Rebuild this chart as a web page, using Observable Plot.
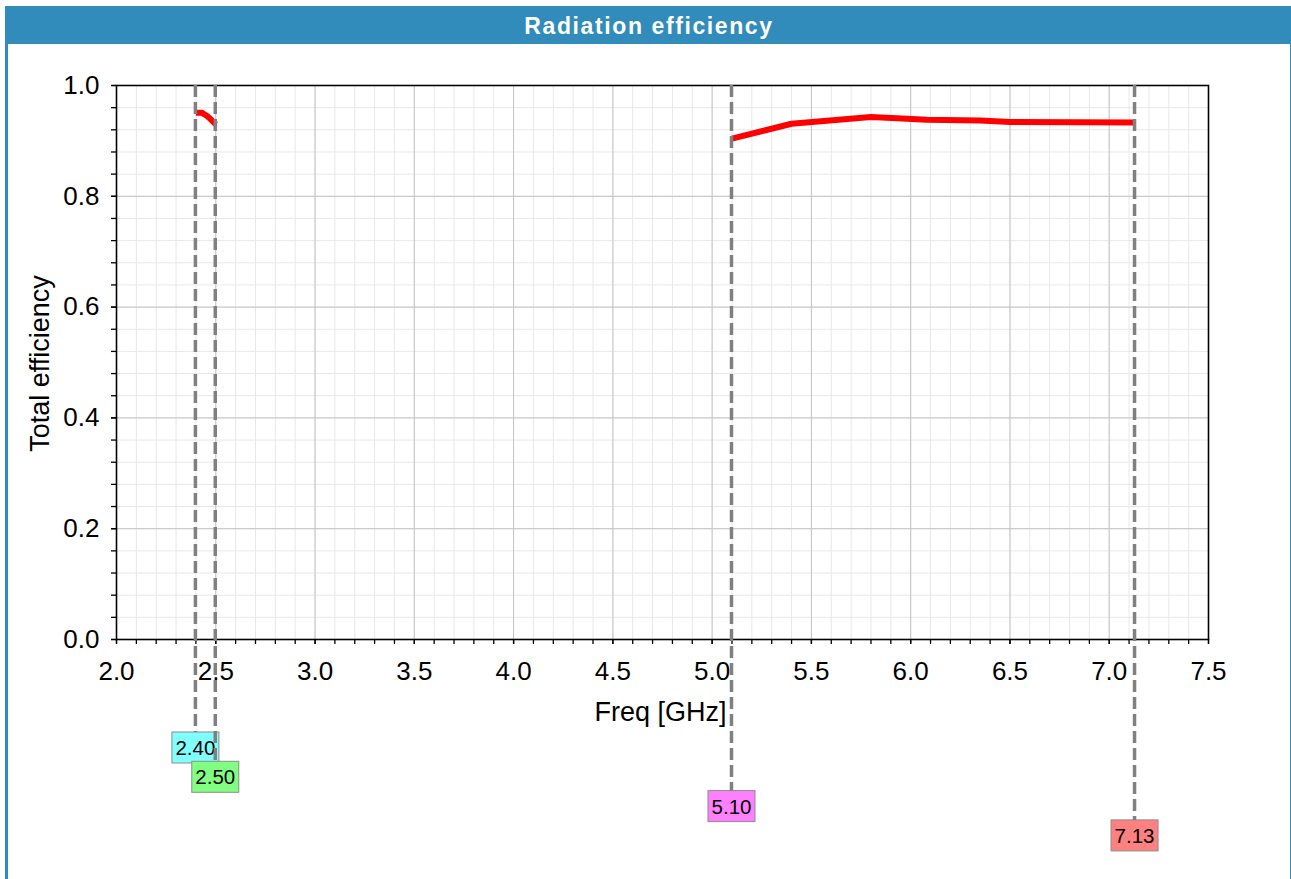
<!DOCTYPE html>
<html><head><meta charset="utf-8">
<script src="https://cdn.jsdelivr.net/npm/d3@7"></script>
<script src="https://cdn.jsdelivr.net/npm/@observablehq/plot@0.6"></script>
<style>
body{margin:0;background:#fff;font-family:"Liberation Sans",Arial,sans-serif;overflow:hidden;}
#wrap{position:absolute;left:5px;top:6px;width:1282px;height:873px;border-left:3px solid #318cbb;border-right:1px solid #318cbb;}
#title{height:38px;background:#318cbb;color:#fff;font-weight:bold;font-size:23px;letter-spacing:1.6px;text-align:center;line-height:40px;}
#chart svg{display:block;}
</style></head><body>
<div id="wrap"><div id="title">Radiation efficiency</div><div id="chart"></div></div>
<script>
// Data
const band1Freq = [2.40, 2.43, 2.46, 2.48, 2.50];
const band1Eff  = [0.951, 0.951, 0.944, 0.937, 0.930];
const band2Freq = [5.10, 5.40, 5.80, 5.93, 6.08, 6.35, 6.50, 7.13];
const band2Eff  = [0.904, 0.931, 0.943, 0.941, 0.938, 0.937, 0.934, 0.933];
const markerFreq = [2.40, 2.50, 5.10, 7.13];
const markerLabels = ["2.40", "2.50", "5.10", "7.13"];
const markerColors = ["#80ffff", "#80ff80", "#ff80ff", "#ff8080"];
const xMajor = [2.0, 2.5, 3.0, 3.5, 4.0, 4.5, 5.0, 5.5, 6.0, 6.5, 7.0, 7.5];
const yMajor = [0.0, 0.2, 0.4, 0.6, 0.8, 1.0];
const xMinor = d3.range(0, 56).map(i => 2 + i / 10);
const yMinor = d3.range(0, 26).map(i => i * 0.04);

const rows = [
  ...band1Freq.map((f, i) => ({freq: f, eff: band1Eff[i], band: "b1"})),
  ...band2Freq.map((f, i) => ({freq: f, eff: band2Eff[i], band: "b2"}))
];

const markersMark = (index, scales, values, dims) => {
  const g = d3.create("svg:g");
  const yTop = scales.y(1), yBot = scales.y(0);
  const bw = 47, bh = 31;
  const offs = markerFreq.map((_, i) => yBot + 93 + i * 29.3);
  markerFreq.forEach((f, i) => {
    const x = scales.x(f);
    const bg = g.append("g");
    bg.append("rect").attr("x", x - bw / 2).attr("y", offs[i]).attr("width", bw).attr("height", bh)
      .attr("fill", markerColors[i]).attr("stroke", "#8c8c8c").attr("stroke-width", 1);
    bg.append("text").attr("x", x).attr("y", offs[i] + bh / 2 + 7.5).attr("text-anchor", "middle")
      .attr("font-size", 20.5).attr("fill", "#000").attr("font-family", "Liberation Sans, Arial, sans-serif")
      .text(markerLabels[i]);
  });
  markerFreq.forEach((f, i) => {
    const x = scales.x(f);
    g.append("line").attr("x1", x).attr("x2", x).attr("y1", yTop).attr("y2", offs[i])
      .attr("stroke", "#808080").attr("stroke-width", 3.5).attr("stroke-dasharray", "12,5");
  });
  return g.node();
};

const chart = Plot.plot({
  width: 1282,
  height: 835,
  marginLeft: 108,
  marginRight: 82,
  marginTop: 41,
  marginBottom: 240,
  style: {fontFamily: "Liberation Sans, Arial, sans-serif", background: "transparent", overflow: "visible"},
  x: {domain: [2, 7.5], axis: null},
  y: {domain: [0, 1], axis: null},
  marks: [
    Plot.gridX(xMinor, {stroke: "#e8e8e8", strokeOpacity: 1, strokeWidth: 1}),
    Plot.gridY(yMinor, {stroke: "#e8e8e8", strokeOpacity: 1, strokeWidth: 1}),
    Plot.gridX(xMajor, {stroke: "#c4c4c4", strokeOpacity: 1, strokeWidth: 1}),
    Plot.gridY(yMajor, {stroke: "#c4c4c4", strokeOpacity: 1, strokeWidth: 1}),
    Plot.axisX(xMinor, {anchor: "bottom", tickSize: 5, tickFormat: () => "", label: null, stroke: "#000", strokeWidth: 1.3}),
    Plot.axisY(yMinor, {anchor: "left", tickSize: 5, tickFormat: () => "", label: null, stroke: "#000", strokeWidth: 1.3}),
    Plot.axisX(xMajor, {anchor: "bottom", tickSize: 5, tickPadding: 17, tickFormat: d3.format(".1f"), fontSize: 26, label: null, fill: "#000", stroke: "#000", strokeWidth: 1.3}),
    Plot.axisY(yMajor, {anchor: "left", tickSize: 5, tickPadding: 12, tickFormat: d3.format(".1f"), fontSize: 26, label: null, fill: "#000", stroke: "#000", strokeWidth: 1.3}),
    Plot.frame({stroke: "#000", strokeWidth: 1.6}),
    Plot.line(rows, {x: "freq", y: "eff", z: "band", stroke: "#ff0000", strokeWidth: 6, strokeLinejoin: "round", strokeLinecap: "butt"}),
    markersMark,
    Plot.text(["Freq [GHz]"], {frameAnchor: "bottom", lineAnchor: "middle", textAnchor: "middle", dy: 73, text: d => d, fontSize: 27, fill: "#000", dx: -2}),
    Plot.text(["Total efficiency"], {frameAnchor: "left", lineAnchor: "middle", textAnchor: "middle", dx: -76, dy: 1, rotate: -90, text: d => d, fontSize: 27, fill: "#000", style: {letterSpacing: "0.8px"}})
  ]
});
document.getElementById("chart").appendChild(chart);
</script>
</body></html>
